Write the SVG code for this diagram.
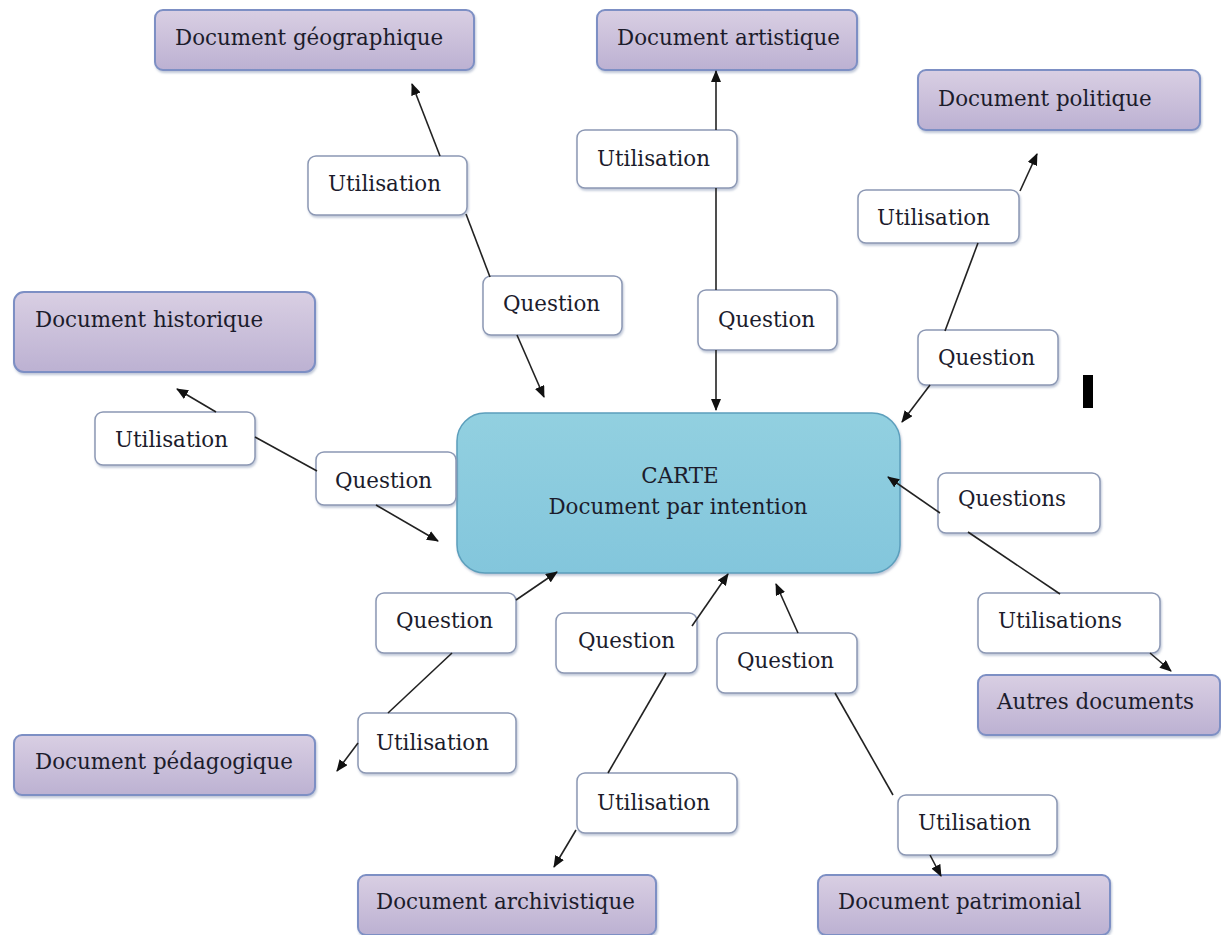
<svg xmlns="http://www.w3.org/2000/svg" width="1221" height="935" viewBox="0 0 1221 935">
<style>
text{font-family:"DejaVu Serif","Liberation Serif",serif;font-size:21.4px;fill:#1c1c2c}
.doc{fill:url(#gp);stroke:#7d8fc4;stroke-width:2}
.q{fill:#fff;stroke:#8c98b4;stroke-width:1.5}
.ln{stroke:#222;stroke-width:1.6;fill:none}
.ar{stroke:#222;stroke-width:1.6;fill:none;marker-end:url(#ah)}
</style>
<defs>
<linearGradient id="gp" x1="0" y1="0" x2="0" y2="1"><stop offset="0" stop-color="#d9cfe3"/><stop offset="1" stop-color="#bcb1d2"/></linearGradient>
<linearGradient id="gc" x1="0" y1="0" x2="0" y2="1"><stop offset="0" stop-color="#92d0e0"/><stop offset="1" stop-color="#83c6dc"/></linearGradient>
<marker id="ah" viewBox="0 0 12 10" refX="11" refY="5" markerWidth="12" markerHeight="10" orient="auto" markerUnits="userSpaceOnUse"><path d="M0,0 L12,5 L0,10 z" fill="#111"/></marker>
<filter id="sh" x="-5%" y="-5%" width="115%" height="125%"><feDropShadow dx="1" dy="2" stdDeviation="1.2" flood-color="#8090b0" flood-opacity="0.5"/></filter>
</defs>
<rect width="1221" height="935" fill="#fff"/>
<g id="carte"><rect x="457" y="413" width="443" height="160" rx="28" fill="url(#gc)" stroke="#5c9fbc" stroke-width="1.5" filter="url(#sh)"/><text x="680" y="483" text-anchor="middle">CARTE</text><text x="678" y="514" text-anchor="middle">Document par intention</text></g>
<g id="doc-geo"><rect class="doc" x="155" y="10" width="319" height="60" rx="8" filter="url(#sh)"/><text x="175" y="45">Document géographique</text></g>
<g id="doc-art"><rect class="doc" x="597" y="10" width="260" height="60" rx="8" filter="url(#sh)"/><text x="617" y="45">Document artistique</text></g>
<g id="doc-pol"><rect class="doc" x="918" y="70" width="282" height="60" rx="8" filter="url(#sh)"/><text x="938" y="106">Document politique</text></g>
<g id="doc-hist"><rect class="doc" x="14" y="292" width="301" height="80" rx="10" filter="url(#sh)"/><text x="35" y="327">Document historique</text></g>
<g id="doc-autres"><rect class="doc" x="978" y="675" width="242" height="60" rx="8" filter="url(#sh)"/><text x="997" y="709">Autres documents</text></g>
<g id="doc-ped"><rect class="doc" x="14" y="735" width="301" height="60" rx="8" filter="url(#sh)"/><text x="35" y="769">Document pédagogique</text></g>
<g id="doc-arch"><rect class="doc" x="358" y="875" width="298" height="60" rx="8" filter="url(#sh)"/><text x="376" y="909">Document archivistique</text></g>
<g id="doc-patr"><rect class="doc" x="818" y="875" width="292" height="60" rx="8" filter="url(#sh)"/><text x="838" y="909">Document patrimonial</text></g>
<g id="u-geo"><rect class="q" x="308" y="156" width="159" height="59" rx="8" filter="url(#sh)"/><text x="328" y="191">Utilisation</text></g>
<g id="q-geo"><rect class="q" x="483" y="276" width="139" height="59" rx="8" filter="url(#sh)"/><text x="503" y="311">Question</text></g>
<g id="u-art"><rect class="q" x="577" y="130" width="160" height="58" rx="8" filter="url(#sh)"/><text x="597" y="166">Utilisation</text></g>
<g id="q-art"><rect class="q" x="698" y="290" width="139" height="60" rx="8" filter="url(#sh)"/><text x="718" y="327">Question</text></g>
<g id="u-pol"><rect class="q" x="858" y="190" width="161" height="53" rx="8" filter="url(#sh)"/><text x="877" y="225">Utilisation</text></g>
<g id="q-pol"><rect class="q" x="918" y="330" width="140" height="55" rx="8" filter="url(#sh)"/><text x="938" y="365">Question</text></g>
<g id="u-hist"><rect class="q" x="95" y="412" width="160" height="53" rx="8" filter="url(#sh)"/><text x="115" y="447">Utilisation</text></g>
<g id="q-hist"><rect class="q" x="316" y="452" width="140" height="53" rx="8" filter="url(#sh)"/><text x="335" y="488">Question</text></g>
<g id="q-autres"><rect class="q" x="938" y="473" width="162" height="60" rx="8" filter="url(#sh)"/><text x="958" y="506">Questions</text></g>
<g id="u-autres"><rect class="q" x="978" y="593" width="182" height="60" rx="8" filter="url(#sh)"/><text x="998" y="628">Utilisations</text></g>
<g id="q-ped"><rect class="q" x="376" y="593" width="140" height="60" rx="8" filter="url(#sh)"/><text x="396" y="628">Question</text></g>
<g id="u-ped"><rect class="q" x="358" y="713" width="158" height="60" rx="8" filter="url(#sh)"/><text x="376" y="750">Utilisation</text></g>
<g id="q-arch"><rect class="q" x="556" y="613" width="141" height="60" rx="8" filter="url(#sh)"/><text x="578" y="648">Question</text></g>
<g id="u-arch"><rect class="q" x="577" y="773" width="160" height="60" rx="8" filter="url(#sh)"/><text x="597" y="810">Utilisation</text></g>
<g id="q-patr"><rect class="q" x="717" y="633" width="140" height="60" rx="8" filter="url(#sh)"/><text x="737" y="668">Question</text></g>
<g id="u-patr"><rect class="q" x="898" y="795" width="159" height="60" rx="8" filter="url(#sh)"/><text x="918" y="830">Utilisation</text></g>
<rect x="1083" y="375" width="10" height="33" fill="#000"/>
<g id="connectors">
<line class="ln" x1="466" y1="214" x2="490" y2="277"/>
<line class="ar" x1="440" y1="156" x2="412" y2="84"/>
<line class="ar" x1="517" y1="335" x2="544" y2="397"/>
<line class="ln" x1="716" y1="188" x2="716" y2="290"/>
<line class="ar" x1="716" y1="130" x2="716" y2="71"/>
<line class="ar" x1="716" y1="350" x2="716" y2="410"/>
<line class="ln" x1="978" y1="243" x2="945" y2="331"/>
<line class="ar" x1="1020" y1="191" x2="1037" y2="154"/>
<line class="ar" x1="930" y1="385" x2="902" y2="422"/>
<line class="ln" x1="255" y1="437" x2="317" y2="471"/>
<line class="ar" x1="216" y1="412" x2="177" y2="389"/>
<line class="ar" x1="376" y1="505" x2="438" y2="541"/>
<line class="ar" x1="940" y1="513" x2="888" y2="477"/>
<line class="ln" x1="968" y1="532" x2="1060" y2="594"/>
<line class="ar" x1="1150" y1="653" x2="1171" y2="671"/>
<line class="ar" x1="516" y1="600" x2="557" y2="572"/>
<line class="ln" x1="452" y1="653" x2="388" y2="713"/>
<line class="ar" x1="358" y1="743" x2="337" y2="771"/>
<line class="ar" x1="692" y1="626" x2="728" y2="574"/>
<line class="ln" x1="666" y1="673" x2="608" y2="773"/>
<line class="ar" x1="576" y1="830" x2="554" y2="867"/>
<line class="ar" x1="798" y1="633" x2="776" y2="584"/>
<line class="ln" x1="835" y1="693" x2="893" y2="795"/>
<line class="ar" x1="930" y1="855" x2="941" y2="876"/>
</g>
</svg>
